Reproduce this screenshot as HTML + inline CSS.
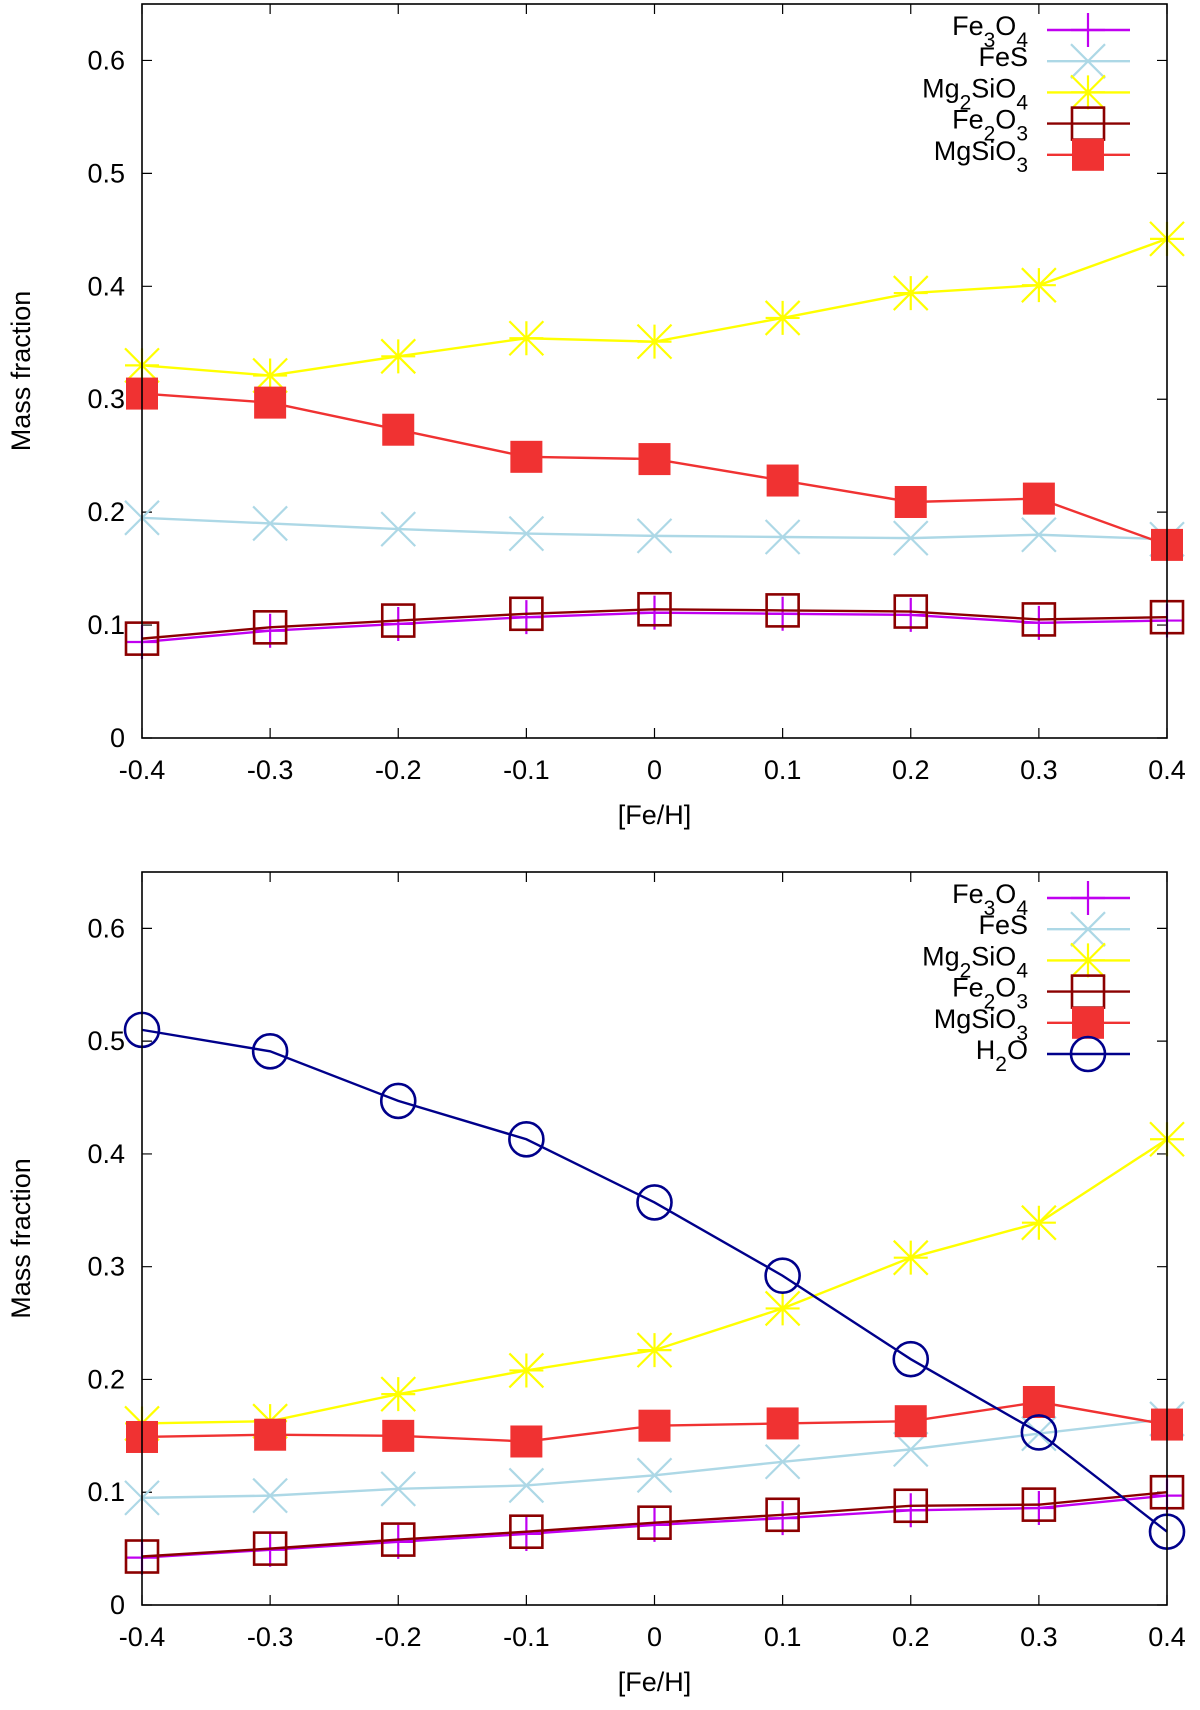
<!DOCTYPE html>
<html><head><meta charset="utf-8"><style>
html,body{margin:0;padding:0;background:#fff;}
svg{display:block;font-family:"Liberation Sans",Arial,sans-serif;}
</style></head><body>
<svg id="fig" width="1200" height="1710" viewBox="0 0 1200 1710" xmlns="http://www.w3.org/2000/svg"></svg>
<script>
const xCats=[-0.4,-0.3,-0.2,-0.1,0,0.1,0.2,0.3,0.4];
const xTickLabels=["-0.4","-0.3","-0.2","-0.1","0","0.1","0.2","0.3","0.4"];
const yTicks=[0,0.1,0.2,0.3,0.4,0.5,0.6];
const yTickLabels=["0","0.1","0.2","0.3","0.4","0.5","0.6"];
// top panel
const topFe3O4=[0.085,0.095,0.101,0.107,0.111,0.110,0.109,0.102,0.104];
const topFeS=[0.195,0.190,0.185,0.181,0.179,0.178,0.177,0.180,0.176];
const topMg2SiO4=[0.330,0.321,0.338,0.354,0.351,0.372,0.394,0.401,0.442];
const topFe2O3=[0.088,0.098,0.104,0.110,0.114,0.113,0.112,0.105,0.107];
const topMgSiO3=[0.305,0.297,0.273,0.249,0.247,0.228,0.209,0.212,0.171];
// bottom panel
const botFe3O4=[0.042,0.049,0.056,0.063,0.071,0.077,0.084,0.086,0.097];
const botFeS=[0.095,0.097,0.103,0.106,0.115,0.127,0.138,0.152,0.165];
const botMg2SiO4=[0.161,0.163,0.187,0.208,0.226,0.263,0.308,0.339,0.413];
const botFe2O3=[0.043,0.050,0.058,0.065,0.073,0.080,0.088,0.089,0.100];
const botMgSiO3=[0.149,0.151,0.150,0.145,0.159,0.161,0.163,0.180,0.160];
const botH2O=[0.510,0.491,0.447,0.413,0.357,0.292,0.218,0.153,0.065];

const NS="http://www.w3.org/2000/svg";
const svg=document.getElementById('fig');
function mk(tag,attrs,parent){const e=document.createElementNS(NS,tag);for(const k in attrs)e.setAttribute(k,attrs[k]);(parent||svg).appendChild(e);return e;}

const sub=n=>`<tspan baseline-shift="sub" font-size="21">${n}</tspan>`;
const styles={
 Fe3O4:{color:"#c000f0",marker:"plus",html:'Fe'+sub(3)+'O'+sub(4)},
 FeS:{color:"#add8e6",marker:"cross",html:'FeS'},
 Mg2SiO4:{color:"#ffff00",marker:"star",html:'Mg'+sub(2)+'SiO'+sub(4)},
 Fe2O3:{color:"#8b0000",marker:"osq",html:'Fe'+sub(2)+'O'+sub(3)},
 MgSiO3:{color:"#f03232",marker:"fsq",html:'MgSiO'+sub(3)},
 H2O:{color:"#00008b",marker:"circ",html:'H'+sub(2)+'O'}
};

function marker(g,type,x,y,c){
 const s=17;
 if(type==="plus"){mk('path',{d:`M${x-s} ${y}H${x+s}M${x} ${y-s}V${y+s}`,stroke:c,'stroke-width':2.2,fill:'none'},g);}
 else if(type==="cross"){mk('path',{d:`M${x-s} ${y-s}L${x+s} ${y+s}M${x-s} ${y+s}L${x+s} ${y-s}`,stroke:c,'stroke-width':2.2,fill:'none'},g);}
 else if(type==="star"){mk('path',{d:`M${x-s} ${y}H${x+s}M${x} ${y-s}V${y+s}M${x-s} ${y-s}L${x+s} ${y+s}M${x-s} ${y+s}L${x+s} ${y-s}`,stroke:c,'stroke-width':2.2,fill:'none'},g);}
 else if(type==="osq"){mk('rect',{x:x-16,y:y-16,width:32,height:32,stroke:c,'stroke-width':2.6,fill:'none'},g);}
 else if(type==="fsq"){mk('rect',{x:x-16,y:y-16,width:32,height:32,fill:c},g);}
 else if(type==="circ"){mk('circle',{cx:x,cy:y,r:17,stroke:c,'stroke-width':2.6,fill:'none'},g);}
}

function panel(name,top,y0px,series,legendY){
 const L=142,R=1167,ymax=0.65;
 const sy=v=>y0px-v*(y0px-top)/ymax;
 const sx=v=>L+(v-xCats[0])/(xCats[xCats.length-1]-xCats[0])*(R-L);
 const g=mk('g',{});
 
 
 yTicks.forEach((t,i)=>{
  const y=sy(t);
  mk('path',{d:`M${L} ${y}h10M${R} ${y}h-10`,stroke:'#000','stroke-width':1.2},g);
  const tx=mk('text',{x:L-17,y:y+9,'text-anchor':'end','font-size':27,fill:'#000'},g);
  tx.textContent=yTickLabels[i];
  
  
 });
 xCats.forEach((c,i)=>{
  const x=sx(c);
  mk('path',{d:`M${x} ${y0px}v-10M${x} ${top}v10`,stroke:'#000','stroke-width':1.2},g);
  const tx=mk('text',{x:x,y:y0px+41,'text-anchor':'middle','font-size':27,fill:'#000'},g);
  tx.textContent=xTickLabels[i];
  
  
 });
 const yl=mk('text',{x:0,y:0,transform:`translate(30 ${(top+y0px)/2}) rotate(-90)`,'text-anchor':'middle','font-size':27,fill:'#000'},g);
 yl.textContent='Mass fraction';
 
 
 const xl=mk('text',{x:(L+R)/2,y:y0px+86,'text-anchor':'middle','font-size':27,fill:'#000'},g);
 xl.textContent='[Fe/H]';
 
 
 series.forEach(([key,vals])=>{
  const st=styles[key];
  const sg=mk('g',{},g);
  
  
  const pts=vals.map((v,i)=>sx(xCats[i])+','+sy(v)).join(' ');
  mk('polyline',{points:pts,fill:'none',stroke:st.color,'stroke-width':2.4},sg);
  vals.forEach((v,i)=>marker(sg,st.marker,sx(xCats[i]),sy(v),st.color));
 });
 series.forEach(([key],i)=>{
  const st=styles[key];
  const y=legendY+i*31.2;
  const lg=mk('g',{},g);
  
  
  const t=mk('text',{x:1028,y:y+5,'text-anchor':'end','font-size':27,fill:'#000'},lg);
  t.innerHTML=st.html;
  mk('line',{x1:1047,y1:y,x2:1130,y2:y,stroke:st.color,'stroke-width':2.4},lg);
  marker(lg,st.marker,1088,y,st.color);
 });
 mk('rect',{x:L,y:top,width:R-L,height:y0px-top,fill:'none',stroke:'#000','stroke-width':1.6},g);
}

panel('top-panel',4,738,[["Fe3O4",topFe3O4],["FeS",topFeS],["Mg2SiO4",topMg2SiO4],["Fe2O3",topFe2O3],["MgSiO3",topMgSiO3]],30);
panel('bottom-panel',872,1605,[["Fe3O4",botFe3O4],["FeS",botFeS],["Mg2SiO4",botMg2SiO4],["Fe2O3",botFe2O3],["MgSiO3",botMgSiO3],["H2O",botH2O]],898);
</script>
</body></html>
